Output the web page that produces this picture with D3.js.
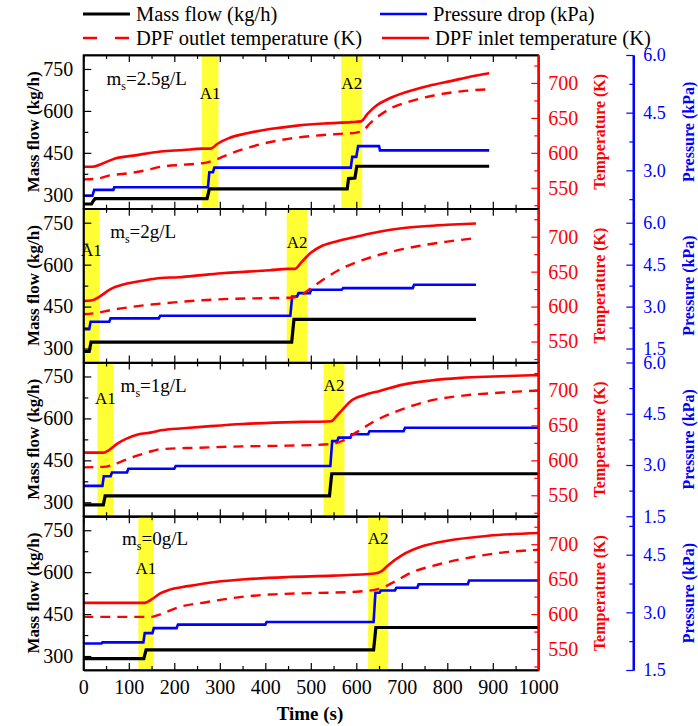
<!DOCTYPE html>
<html>
<head>
<meta charset="utf-8">
<script src="https://cdn.jsdelivr.net/npm/d3@7"></script>
<style>
body{margin:0;background:#fff;}
svg text{font-family:"Liberation Serif","Times New Roman",serif;}
</style>
</head>
<body>
<div id="chart"></div>
<script>
// ---- data: [time (s), value] ----
var loads = ["2.5", "2", "1", "0"];
var xTicks = [0,100,200,300,400,500,600,700,800,900,1000];
var massTicks = [300,450,600,750];
var tempTicks = [550,600,650,700];

// A1 / A2 regeneration windows (s)
var bandA1 = [[261,297],[0,36],[31,66],[121,154]];
var bandA2 = [[567,613],[447,493],[528,574],[626,670]];

// ms = 2.5 g/L
var mass1 = [[0,267],[18,267],[22,278],[26,286],[272,286],[277,321],[580,321],[583,358],[597,360],[601,402],[892,402]];
var pres1 = [[0,2.34],[20,2.34],[24,2.49],[66,2.49],[68,2.56],[274,2.56],[277,2.95],[285,2.95],[288,3.07],[588,3.07],[591,3.35],[600,3.35],[604,3.63],[650,3.63],[652,3.52],[892,3.52]];
var out1 = [[0,562],[30,563],[60,568],[90,570],[130,574],[170,580],[220,583],[270,586],[290,590],[320,598],[360,607],[400,614],[450,620],[500,624],[560,627],[600,629],[615,632],[630,642],[650,653],[680,665],[720,674],[770,682],[830,688],[892,691]];
var in1 = [[0,580],[20,580],[40,584],[70,592],[110,596],[170,602],[220,604],[261,606],[280,606],[295,613],[320,621],[360,628],[410,634],[470,639],[530,642],[590,644],[610,645],[625,656],[645,668],[670,677],[710,687],[760,696],[810,703],[850,709],[892,714]];

// ms = 2 g/L
var mass2 = [[0,290],[13,290],[17,323],[458,323],[463,404],[863,404]];
var pres2 = [[0,2.19],[13,2.19],[16,2.46],[57,2.46],[60,2.58],[166,2.58],[169,2.67],[455,2.67],[459,3.36],[470,3.36],[473,3.48],[498,3.48],[501,3.6],[568,3.6],[571,3.66],[724,3.66],[727,3.78],[863,3.78]];
var out2 = [[0,589],[30,591],[60,595],[100,599],[150,603],[200,606],[260,609],[320,611],[400,612],[460,613],[480,617],[500,626],[530,640],[570,655],[620,668],[680,679],[740,687],[800,693],[863,698]];
var in2 = [[0,608],[20,609],[35,614],[60,625],[90,632],[130,637],[170,641],[210,642],[260,645],[310,648],[360,650],[410,652],[450,654],[465,654],[480,664],[500,677],[525,687],[560,694],[600,700],[650,707],[700,712],[750,715],[800,717],[863,719]];

// ms = 1 g/L
var mass3 = [[0,291],[44,291],[48,323],[541,323],[546,402],[1000,402]];
var pres3 = [[0,2.39],[42,2.39],[45,2.67],[60,2.67],[63,2.78],[96,2.78],[99,2.89],[200,2.89],[203,2.97],[543,2.97],[547,3.7],[558,3.7],[561,3.8],[587,3.8],[590,3.9],[626,3.9],[629,3.99],[704,3.99],[707,4.09],[1000,4.09]];
var out3 = [[0,590],[50,591],[70,595],[90,600],[120,607],[150,613],[170,616],[250,618],[350,620],[450,621],[540,623],[570,628],[600,640],[640,656],[700,673],[760,685],[840,693],[920,697],[1000,700]];
var in3 = [[0,611],[45,611],[55,614],[75,624],[95,631],[120,637],[150,640],[170,643],[220,646],[280,649],[350,652],[420,654],[480,655],[545,656],[555,662],[570,673],[590,686],[620,694],[650,699],[700,708],[760,714],[830,718],[900,720],[1000,722]];

// ms = 0 g/L
var mass4 = [[0,291],[133,291],[138,322],[638,322],[643,402],[1000,402]];
var pres4 = [[0,2.19],[40,2.19],[42,2.22],[132,2.22],[135,2.46],[152,2.46],[155,2.59],[205,2.59],[208,2.68],[400,2.68],[403,2.75],[638,2.75],[642,3.51],[651,3.51],[654,3.57],[685,3.57],[688,3.64],[734,3.64],[737,3.73],[845,3.73],[848,3.83],[1000,3.83]];
var out4 = [[0,596],[150,596],[170,600],[210,610],[270,617],[340,624],[410,628],[500,630],[600,632],[650,636],[680,645],[720,659],[780,671],[850,681],[920,688],[1000,692]];
var in4 = [[0,616],[135,616],[150,621],[170,630],[190,635],[230,640],[290,646],[360,650],[450,653],[550,655],[640,658],[655,661],[670,670],[700,684],[750,698],[800,705],[890,712],[1000,716]];

// pressure axis range and labelled ticks differ per panel
var presDomain = [[2,6],[1,6.5],[1.5,6],[1.5,5.5]];
var presTicks = [[3,4.5,6],[1.5,3,4.5,6],[1.5,3,4.5,6],[1.5,3,4.5]];

var massData = [mass1,mass2,mass3,mass4];
var presData = [pres1,pres2,pres3,pres4];
var outData = [out1,out2,out3,out4];
var inData = [in1,in2,in3,in4];

// ---- layout ----
var width = 698, height = 726;
var plotLeft = 83.3, plotRight = 538.3, presX = 633.3;
var top0 = 55, panelH = 153.75;
// annotation offsets from panel top
var a1Y = [38,41,36,52], a2Y = [28,33,23,22];
var msPos = [[51,23],[59,23],[82,22.5],[85,22]];

var svg = d3.select("#chart").append("svg")
    .attr("width", width)
    .attr("height", height);

var x = d3.scaleLinear().domain([0,1000]).range([plotLeft, plotRight]);

function styleAxis(g, color, w, fs) {
  g.select(".domain").attr("stroke", color).attr("stroke-width", w);
  g.selectAll(".tick line").attr("stroke", color).attr("stroke-width", 1.2);
  g.selectAll(".tick text").attr("fill", color).style("font-size", (fs || 20) + "px")
    .style("font-family", '"Liberation Serif", serif');
}

function drawPanel(i) {
  var pTop = top0 + i*panelH, pBottom = pTop + panelH;
  var yM = d3.scaleLinear().domain([250,800]).range([pBottom, pTop]);
  var yT = d3.scaleLinear().domain([520,740]).range([pBottom, pTop]);
  var yP = d3.scaleLinear().domain(presDomain[i]).range([pBottom, pTop]);

  var g = svg.append("g");

  // yellow bands
  [bandA1[i], bandA2[i]].forEach(function(b){
    g.append("rect")
      .attr("x", x(b[0])).attr("y", pTop)
      .attr("width", x(b[1]) - x(b[0])).attr("height", panelH)
      .attr("fill", "#ffff33");
  });

  // curves
  var lineM = d3.line().x(function(d){return x(d[0]);}).y(function(d){return yM(d[1]);});
  var lineP = d3.line().x(function(d){return x(d[0]);}).y(function(d){return yP(d[1]);});
  var lineT = d3.line().x(function(d){return x(d[0]);}).y(function(d){return yT(d[1]);}).curve(d3.curveMonotoneX);

  g.append("path").attr("d", lineM(massData[i]))
    .attr("fill","none").attr("stroke","#000").attr("stroke-width",3.2);
  g.append("path").attr("d", lineP(presData[i]))
    .attr("fill","none").attr("stroke","#0000ff").attr("stroke-width",2.6);
  g.append("path").attr("d", lineT(outData[i]))
    .attr("fill","none").attr("stroke","#ff0000").attr("stroke-width",2.4)
    .attr("stroke-dasharray","10,7");
  g.append("path").attr("d", lineT(inData[i]))
    .attr("fill","none").attr("stroke","#ff0000").attr("stroke-width",2.6);

  // frame
  g.append("rect")
    .attr("x", plotLeft).attr("y", pTop)
    .attr("width", plotRight - plotLeft).attr("height", panelH)
    .attr("fill","none").attr("stroke","#000").attr("stroke-width",1.3);

  // top / bottom ticks pointing inward
  var minorX = d3.range(50,1000,100);
  g.append("g").attr("transform","translate(0,"+pTop+")")
    .call(d3.axisTop(x).tickValues(xTicks).tickSize(-7).tickSizeOuter(0).tickFormat(""))
    .call(styleAxis, "#000", 1.3);
  g.append("g").attr("transform","translate(0,"+pTop+")")
    .call(d3.axisTop(x).tickValues(minorX).tickSize(-4).tickSizeOuter(0).tickFormat(""))
    .call(styleAxis, "#000", 1.3);
  g.append("g").attr("transform","translate(0,"+pBottom+")")
    .call(d3.axisBottom(x).tickValues(xTicks).tickSize(-7).tickSizeOuter(0).tickPadding(10)
      .tickFormat(i == 3 ? d3.format("d") : ""))
    .call(styleAxis, "#000", 1.3);
  g.append("g").attr("transform","translate(0,"+pBottom+")")
    .call(d3.axisBottom(x).tickValues(minorX).tickSize(-4).tickSizeOuter(0).tickFormat(""))
    .call(styleAxis, "#000", 1.3);

  // left mass flow axis
  g.append("g").attr("transform","translate("+plotLeft+",0)")
    .call(d3.axisLeft(yM).tickValues(massTicks).tickSize(-8).tickSizeOuter(0).tickPadding(10))
    .call(styleAxis, "#000", 1.6);
  g.append("g").attr("transform","translate("+plotLeft+",0)")
    .call(d3.axisLeft(yM).tickValues([375,525,675]).tickSize(-5).tickSizeOuter(0).tickFormat(""))
    .call(styleAxis, "#000", 1.6);

  // temperature axis (red, on the frame's right edge)
  g.append("g").attr("transform","translate("+plotRight+",0)")
    .call(d3.axisRight(yT).tickValues(tempTicks).tickSize(-7).tickSizeOuter(0).tickPadding(10))
    .call(styleAxis, "#ff0000", 2.2);
  g.append("g").attr("transform","translate("+plotRight+",0)")
    .call(d3.axisRight(yT).tickValues([525,575,625,675,725]).tickSize(-4).tickSizeOuter(0).tickFormat(""))
    .call(styleAxis, "#ff0000", 2.2);

  // pressure axis (blue, offset)
  var pMinor = [2.25,3.75,5.25].filter(function(v){return v > presDomain[i][0] && v < presDomain[i][1];});
  g.append("g").attr("transform","translate("+presX+",0)")
    .call(d3.axisRight(yP).tickValues(presTicks[i]).tickSize(-7).tickSizeOuter(0).tickPadding(10)
      .tickFormat(d3.format(".1f")))
    .call(styleAxis, "#0000ff", 2.2, 18);
  g.append("g").attr("transform","translate("+presX+",0)")
    .call(d3.axisRight(yP).tickValues(pMinor).tickSize(-4).tickSizeOuter(0).tickFormat(""))
    .call(styleAxis, "#0000ff", 2.2);

  // axis titles
  var mid = (pTop + pBottom)/2;
  g.append("text").attr("transform","translate(33,"+mid+") rotate(-90)")
    .attr("text-anchor","middle").attr("dy","0.35em")
    .style("font-size","17px").style("font-weight","bold").text("Mass flow (kg/h)");
  g.append("text").attr("transform","translate(599,"+mid+") rotate(-90)")
    .attr("text-anchor","middle").attr("dy","0.35em").attr("fill","#ff0000")
    .style("font-size","16px").style("font-weight","bold").text("Temperature (K)");
  g.append("text").attr("transform","translate(688,"+mid+") rotate(-90)")
    .attr("text-anchor","middle").attr("dy","0.35em").attr("fill","#0000ff")
    .style("font-size","16px").style("font-weight","bold").text("Pressure (kPa)");

  // A1 / A2 labels
  g.append("text").attr("x", x((bandA1[i][0]+bandA1[i][1])/2)).attr("y", pTop + a1Y[i])
    .attr("text-anchor","middle").attr("dy","0.35em").style("font-size","17px").text("A1");
  g.append("text").attr("x", x((bandA2[i][0]+bandA2[i][1])/2)).attr("y", pTop + a2Y[i])
    .attr("text-anchor","middle").attr("dy","0.35em").style("font-size","17px").text("A2");

  // loading label m_s = ...
  var ms = g.append("text").attr("x", x(msPos[i][0])).attr("y", pTop + msPos[i][1])
    .attr("dy","0.35em").style("font-size","19px");
  ms.append("tspan").text("m");
  ms.append("tspan").attr("dy","5").style("font-size","12px").text("s");
  ms.append("tspan").attr("dy","-5").text("=" + loads[i] + "g/L");
}

for (var i = 0; i < 4; i++) drawPanel(i);

// x title
svg.append("text").attr("x", 310).attr("y", 713).attr("text-anchor","middle").attr("dy","0.35em")
  .style("font-size","19px").style("font-weight","bold").text("Time (s)");

// legend
var legend = [
  {label:"Mass flow (kg/h)", color:"#000", dash:null, x:83, y:14},
  {label:"Pressure drop (kPa)", color:"#0000ff", dash:null, x:380, y:14},
  {label:"DPF outlet temperature (K)", color:"#ff0000", dash:"14,18", x:83, y:38},
  {label:"DPF inlet temperature (K)", color:"#ff0000", dash:null, x:382, y:38}
];
legend.forEach(function(d){
  svg.append("line").attr("x1", d.x).attr("x2", d.x + 47).attr("y1", d.y).attr("y2", d.y)
    .attr("stroke", d.color).attr("stroke-width", d.color == "#000" ? 3.2 : 2.6)
    .attr("stroke-dasharray", d.dash);
  svg.append("text").attr("x", d.x + 53).attr("y", d.y).attr("dy","0.35em")
    .style("font-size","20.5px").text(d.label);
});
</script>
</body>
</html>
